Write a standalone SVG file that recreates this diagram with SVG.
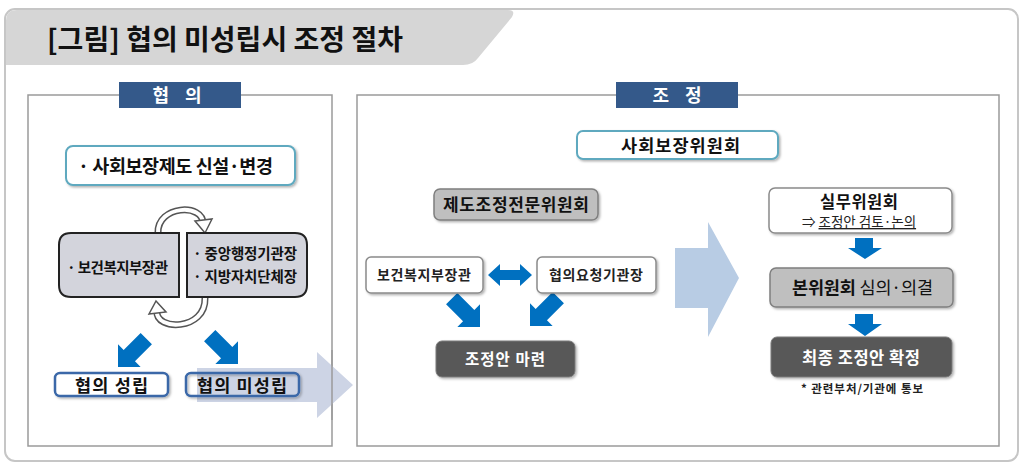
<svg xmlns="http://www.w3.org/2000/svg" width="1022" height="464" viewBox="0 0 1022 464">
<style>
text{font-family:'Noto Sans CJK KR','Noto Sans',sans-serif;}
.b{font-weight:700;}
.c{text-anchor:middle;}
.panel{fill:#fff;stroke:#9a9a9a;stroke-width:1.5;}
.pline{fill:none;stroke:#9a9a9a;stroke-width:1.5;}
.hdr{fill:#34598a;}
.hdrt{fill:#fff;font-weight:700;font-size:18px;text-anchor:middle;}
.teal{fill:#fff;stroke:#5ea9bf;stroke-width:2;}
.wbox{fill:#fff;stroke:#8a8a8a;stroke-width:1.5;}
.gbox{fill:#bfbfbf;stroke:#7f7f7f;stroke-width:1.5;}
.dbox{fill:#595959;stroke:#7a7a7a;stroke-width:1;}
.bbox{stroke:#3a67a8;stroke-width:2.5;}
.lbox{fill:#d3d4dc;stroke:#222;stroke-width:2;}
.blue{fill:#0070c0;}
</style>
<defs>
<filter id="sh" x="-10%" y="-20%" width="130%" height="150%">
<feDropShadow dx="1.5" dy="1.5" stdDeviation="1.2" flood-color="#000" flood-opacity="0.3"/>
</filter>
<polygon id="da" points="0,-8 24,-8 24,-16 40,0 24,16 24,8 0,8"/>
</defs>

<!-- frame -->
<rect x="5" y="9" width="1013" height="452" rx="10" fill="#fff" stroke="#c6c6c6" stroke-width="2"/>
<path d="M6,65 L6,21 Q6,10 17,10 L508,10 Q516,10 512,17 L478,58 Q473,65 463,65 Z" fill="#d6d6d6"/>
<text x="47" y="50" font-size="28" class="b" fill="#111" textLength="356" lengthAdjust="spacing">[그림] 협의 미성립시 조정 절차</text>

<!-- panels -->
<g id="panel-hyeobui">
<rect class="panel" x="28" y="95" width="304" height="351"/>
</g>
<g id="panel-jojeong">
<rect class="panel" x="357" y="95" width="642" height="351"/>
</g>

<!-- connectors -->
<g id="connectors">
<polygon points="197,368 317,368 317,352 353,385 317,418 317,402 197,402" fill="#cdd4e5"/>
<polygon points="675,248 708,248 708,222 739,278 708,337 708,308 675,308" fill="#b8cce4"/>
<path d="M158,233 C157,205 204,203 203,224" fill="none" stroke="#555" stroke-width="7"/>
<path d="M158,233 C157,205 204,203 203,224" fill="none" stroke="#fff" stroke-width="4"/>
<polygon points="195,221 212,219 205,233" fill="#fff" stroke="#555" stroke-width="1.5"/>
<path d="M205,298 C206,331 155,331 157,311" fill="none" stroke="#555" stroke-width="7"/>
<path d="M205,298 C206,331 155,331 157,311" fill="none" stroke="#fff" stroke-width="4"/>
<polygon points="149,314 166,312 156,301" fill="#fff" stroke="#555" stroke-width="1.5"/>
<use href="#da" class="blue" transform="translate(118,367) rotate(135) translate(-40,0)"/>
<use href="#da" class="blue" transform="translate(238,364) rotate(45) translate(-40,0)"/>
<use href="#da" class="blue" transform="translate(480,327) rotate(45) translate(-40,0)"/>
<use href="#da" class="blue" transform="translate(530,326) rotate(135) translate(-40,0)"/>
<polygon class="blue" points="488,275 500,264 500,270 520,270 520,264 532,275 520,286 520,280 500,280 500,286"/>
<polygon class="blue" points="855,238 873,238 873,248 882,248 865,259 848,248 855,248"/>
<polygon class="blue" points="855,314 873,314 873,324 882,324 865,336 848,324 855,324"/>
</g>

<line class="pline" x1="332" y1="350" x2="332" y2="420"/>
<g id="hdr-hyeobui">
<rect class="hdr" x="119" y="82" width="122" height="26"/>
<text class="hdrt" x="180" y="102" letter-spacing="6">협 의</text>
</g>
<g id="hdr-jojeong">
<rect class="hdr" x="616" y="82" width="122" height="26"/>
<text class="hdrt" x="680" y="102" letter-spacing="6">조 정</text>
</g>

<g id="node-sinseol">
<rect class="teal" x="66" y="146" width="229" height="39" rx="7" filter="url(#sh)"/>
<text class="b" x="78" y="172.5" font-size="18.5" fill="#111" textLength="195" lengthAdjust="spacing">· 사회보장제도 신설·변경</text>
</g>

<g id="node-bokji-left">
<path class="lbox" d="M179,233 L179,297 L71,297 Q59,297 59,285 L59,245 Q59,233 71,233 Z"/>
<text class="b" x="67" y="273" font-size="14.5" fill="#111" textLength="101" lengthAdjust="spacing">· 보건복지부장관</text>
</g>
<g id="node-gigwan-left">
<path class="lbox" d="M187,233 L295,233 Q307,233 307,245 L307,285 Q307,297 295,297 L187,297 Z"/>
<text class="b" x="193" y="259" font-size="14.5" fill="#111" textLength="104" lengthAdjust="spacing">· 중앙행정기관장</text>
<text class="b" x="193" y="282" font-size="14.5" fill="#111" textLength="104" lengthAdjust="spacing">· 지방자치단체장</text>
</g>

<g id="node-seongrip">
<rect class="bbox" fill="#fff" x="55" y="373" width="113" height="23" rx="5" filter="url(#sh)"/>
<text class="b" x="75" y="391.5" font-size="17.5" fill="#111" textLength="73" lengthAdjust="spacing">협의 성립</text>
</g>
<g id="node-miseongrip">
<rect class="bbox" fill="none" x="186" y="373" width="113" height="23" rx="5" filter="url(#sh)"/>
<text class="b" x="197" y="391.5" font-size="17.5" fill="#111" textLength="90" lengthAdjust="spacing">협의 미성립</text>
</g>

<g id="node-wiwonhoe">
<rect class="teal" x="577" y="131" width="201" height="28" rx="6" filter="url(#sh)"/>
<text class="b" x="621" y="151.5" font-size="17.5" fill="#111" textLength="119" lengthAdjust="spacing">사회보장위원회</text>
</g>

<g id="node-jeonmun">
<rect class="gbox" x="434" y="189" width="164" height="31" rx="6" filter="url(#sh)"/>
<text class="b" x="443" y="211" font-size="17" fill="#111" textLength="146" lengthAdjust="spacing">제도조정전문위원회</text>
</g>

<g id="node-bokji-right">
<rect class="wbox" x="366" y="257" width="117" height="36" rx="5" filter="url(#sh)"/>
<text class="b" x="377" y="280" font-size="14" fill="#222" textLength="94" lengthAdjust="spacing">보건복지부장관</text>
</g>
<g id="node-yocheong">
<rect class="wbox" x="537" y="257" width="119" height="36" rx="5" filter="url(#sh)"/>
<text class="b" x="549" y="280" font-size="14" fill="#222" textLength="94" lengthAdjust="spacing">협의요청기관장</text>
</g>

<g id="node-maryeon">
<rect class="dbox" x="436" y="341" width="139" height="36" rx="6" filter="url(#sh)"/>
<text class="b" x="465" y="365" font-size="15.5" fill="#fff" textLength="80" lengthAdjust="spacing">조정안 마련</text>
</g>

<g id="node-silmu">
<rect class="wbox" x="769" y="188" width="183" height="45" rx="6" filter="url(#sh)"/>
<text class="b" x="820" y="208" font-size="16.5" fill="#111" textLength="78" lengthAdjust="spacing">실무위원회</text>
<text x="802" y="227" font-size="13.5" fill="#222">⇒ <tspan text-decoration="underline">조정안 검토·논의</tspan></text>
</g>

<g id="node-bonwiwonhoe">
<rect class="gbox" x="770" y="268" width="183" height="39" rx="6" filter="url(#sh)"/>
<text x="792" y="294" font-size="17.5" fill="#111" textLength="141" lengthAdjust="spacing"><tspan font-weight="700">본위원회</tspan> 심의·의결</text>
</g>

<g id="node-hwakjeong">
<rect class="dbox" x="771" y="337" width="181" height="40" rx="6" filter="url(#sh)"/>
<text class="b" x="802" y="364" font-size="16.5" fill="#fff" textLength="118" lengthAdjust="spacing">최종 조정안 확정</text>
<text class="b" x="801" y="392.5" font-size="11.5" fill="#222" textLength="122" lengthAdjust="spacing">* 관련부처/기관에 통보</text>
</g>
</svg>
